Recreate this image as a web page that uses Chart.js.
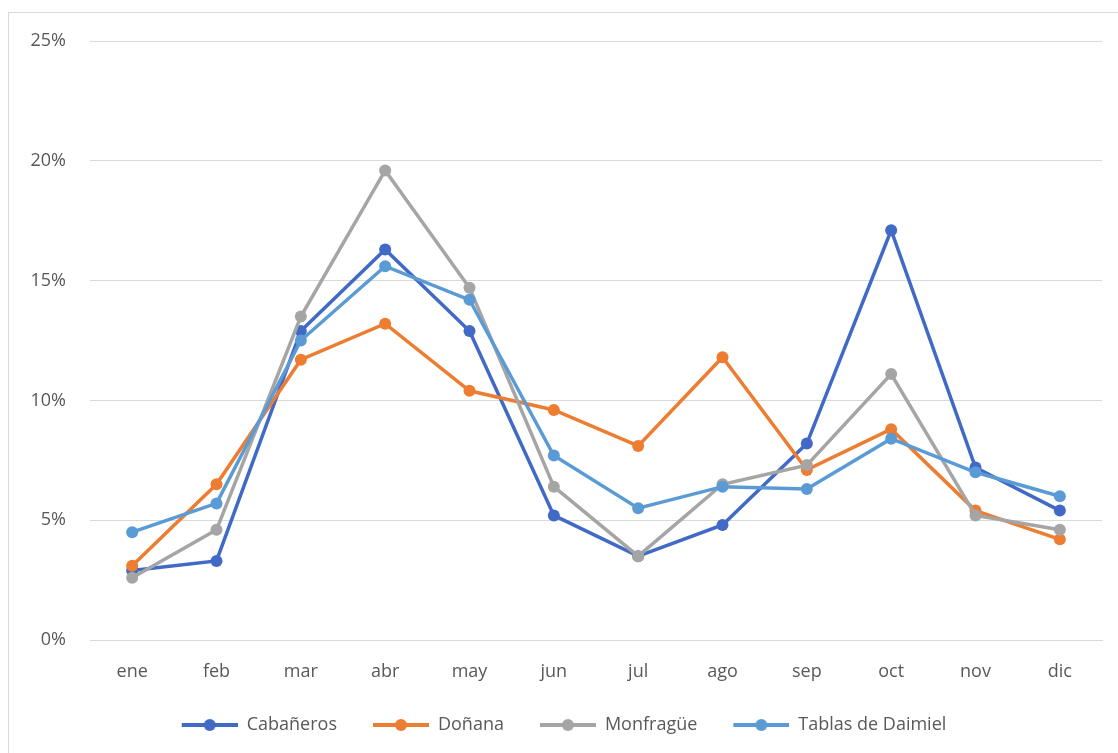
<!DOCTYPE html>
<html>
<head>
<meta charset="utf-8">
<script src="https://cdn.jsdelivr.net/npm/chart.js@4"></script>
<style>
  html, body { margin: 0; padding: 0; background: #fff; }
  #frame {
    position: absolute; left: 8px; top: 12px; width: 1120px; height: 760px;
    border-left: 1px solid #d9d9d9; border-top: 1px solid #d9d9d9;
  }
  #wrap { position: absolute; left: 0; top: 0; width: 1118px; height: 753px; }
</style>
</head>
<body>
<div id="frame"></div>
<div id="wrap"><canvas id="lineChart"></canvas></div>
<script>
// datos (% mensual)
var meses = ["ene", "feb", "mar", "abr", "may", "jun", "jul", "ago", "sep", "oct", "nov", "dic"];
var cabaneros = [2.9, 3.3, 12.9, 16.3, 12.9, 5.2, 3.5, 4.8, 8.2, 17.1, 7.2, 5.4];
var donana = [3.1, 6.5, 11.7, 13.2, 10.4, 9.6, 8.1, 11.8, 7.1, 8.8, 5.4, 4.2];
var monfrague = [2.6, 4.6, 13.5, 19.6, 14.7, 6.4, 3.5, 6.5, 7.3, 11.1, 5.2, 4.6];
var tablas = [4.5, 5.7, 12.5, 15.6, 14.2, 7.7, 5.5, 6.4, 6.3, 8.4, 7.0, 6.0];

var colores = ["#4169c6", "#ed7d31", "#a5a5a5", "#5b9bd5"];

// icono de la leyenda: hueco + linea con circulo
var HUECO = 26;
function iconoLeyenda(color) {
  var c = document.createElement("canvas");
  c.width = 56 + HUECO;
  c.height = 14;
  var ctx = c.getContext("2d");
  ctx.strokeStyle = color;
  ctx.lineWidth = 4;
  ctx.beginPath();
  ctx.moveTo(HUECO, 7);
  ctx.lineTo(HUECO + 56, 7);
  ctx.stroke();
  ctx.fillStyle = color;
  ctx.beginPath();
  ctx.arc(HUECO + 28, 7, 6, 0, Math.PI * 2);
  ctx.fill();
  return c;
}

function serie(label, data, i) {
  return {
    label: label,
    data: data,
    borderColor: colores[i],
    backgroundColor: colores[i],
    pointBackgroundColor: colores[i],
    pointBorderColor: colores[i],
    borderWidth: 3.5,
    pointRadius: 6,
    pointBorderWidth: 0,
    order: 4 - i,
    tension: 0,
  };
}

Chart.defaults.font.family = "'Open Sans', Lato, sans-serif";
Chart.defaults.color = "#595959";

var ctx = document.getElementById("lineChart").getContext("2d");
var lineChart = new Chart(ctx, {
  type: "line",
  data: {
    labels: meses,
    datasets: [
      serie("Cabañeros", cabaneros, 0),
      serie("Doñana", donana, 1),
      serie("Monfragüe", monfrague, 2),
      serie("Tablas de Daimiel", tablas, 3),
    ],
  },
  options: {
    responsive: true,
    maintainAspectRatio: false,
    animation: false,
    layout: { padding: { top: 41, right: 16, left: 0, bottom: 9 } },
    plugins: {
      tooltip: { enabled: false },
      legend: {
        position: "bottom",
        labels: {
          font: { size: 18 },
          color: "#595959",
          usePointStyle: true,
          pointStyleWidth: 56 + HUECO,
          padding: 10,
          sort: function (a, b) {
            return a.datasetIndex - b.datasetIndex;
          },
          generateLabels: function (chart) {
            var items = Chart.defaults.plugins.legend.labels.generateLabels(chart);
            items.forEach(function (it) {
              it.pointStyle = iconoLeyenda(colores[it.datasetIndex]);
            });
            return items;
          },
        },
      },
    },
    scales: {
      x: {
        offset: true,
        grid: { display: false },
        border: { color: "#d9d9d9", width: 1 },
        ticks: { font: { size: 18 }, padding: 13 },
        afterFit: function (scale) {
          scale.height = 66;
        },
      },
      y: {
        min: 0,
        max: 25,
        grid: { color: "#d9d9d9", drawTicks: false },
        border: { display: false },
        ticks: {
          stepSize: 5,
          padding: 24,
          font: { size: 18 },
          callback: function (v) {
            return v + "%";
          },
        },
        afterFit: function (scale) {
          scale.width = 90;
        },
      },
    },
  },
});
</script>
</body>
</html>
